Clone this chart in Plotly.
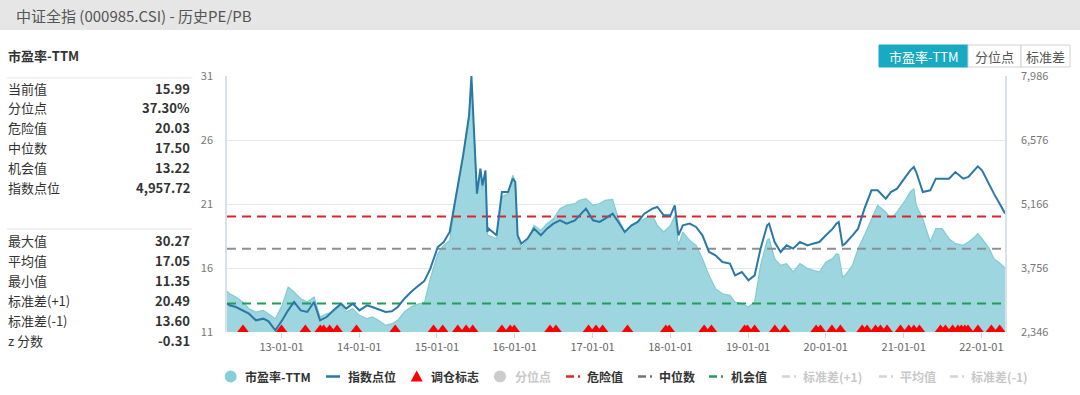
import plotly.graph_objects as go

# ---------------- data ----------------
dates = [
    "2012-04-20", "2012-05-02", "2012-06-01", "2012-07-02", "2012-08-01", "2012-09-03",
    "2012-10-08", "2012-11-01", "2012-12-03", "2013-01-04", "2013-02-01", "2013-03-01",
    "2013-04-01", "2013-05-02", "2013-06-03", "2013-07-01", "2013-08-01", "2013-09-02",
    "2013-10-08", "2013-11-01", "2013-12-02", "2014-01-02", "2014-02-07", "2014-03-03",
    "2014-04-01", "2014-05-05", "2014-06-03", "2014-07-01", "2014-08-01", "2014-09-01",
    "2014-10-08", "2014-11-03", "2014-12-01", "2015-01-05", "2015-02-02", "2015-03-02",
    "2015-04-01", "2015-05-04", "2015-06-01", "2015-06-12", "2015-07-08", "2015-07-24",
    "2015-08-03", "2015-08-17", "2015-08-26", "2015-09-01", "2015-10-08", "2015-11-02",
    "2015-12-01", "2015-12-23", "2016-01-04", "2016-01-15", "2016-02-01", "2016-03-01",
    "2016-04-01", "2016-05-03", "2016-06-01", "2016-07-01", "2016-08-01", "2016-09-01",
    "2016-10-10", "2016-11-01", "2016-12-01", "2017-01-03", "2017-02-03", "2017-03-01",
    "2017-04-05", "2017-05-02", "2017-06-01", "2017-07-03", "2017-08-01", "2017-09-01",
    "2017-10-09", "2017-11-01", "2017-12-01", "2018-01-02", "2018-01-22", "2018-02-08",
    "2018-03-01", "2018-04-02", "2018-05-02", "2018-06-01", "2018-07-02", "2018-08-01",
    "2018-09-03", "2018-10-08", "2018-11-01", "2018-12-03", "2019-01-03", "2019-02-01",
    "2019-03-01", "2019-04-01", "2019-04-10", "2019-05-06", "2019-06-03", "2019-07-01",
    "2019-08-01", "2019-09-02", "2019-10-08", "2019-11-01", "2019-12-02", "2020-01-02",
    "2020-02-03", "2020-02-20", "2020-03-02", "2020-03-20", "2020-04-01", "2020-05-06",
    "2020-06-01", "2020-07-01", "2020-08-03", "2020-09-01", "2020-10-09", "2020-11-02",
    "2020-12-01", "2021-01-04", "2021-02-01", "2021-02-18", "2021-03-01", "2021-04-01",
    "2021-05-06", "2021-06-01", "2021-07-01", "2021-08-02", "2021-09-01", "2021-10-08",
    "2021-11-01", "2021-12-01", "2021-12-15", "2022-01-04", "2022-02-07", "2022-03-01",
    "2022-04-01", "2022-04-22",
]

pe_ttm = [
    14.18, 13.99, 13.73, 13.34, 12.82, 12.56,
    12.69, 12.43, 12.04, 13.08, 14.52, 14.13,
    13.60, 13.34, 13.73, 12.17, 12.43, 12.56,
    13.08, 12.56, 12.82, 12.30, 12.04, 12.17,
    11.91, 11.52, 11.65, 11.91, 12.56, 12.95,
    13.21, 13.28, 15.17, 17.12, 17.77, 18.16,
    21.42, 24.54, 27.67, 30.27, 21.80, 23.50,
    22.20, 23.40, 18.60, 18.55, 18.29, 21.55,
    21.81, 23.24, 22.72, 18.16, 17.64, 18.16,
    19.33, 18.94, 19.46, 19.85, 20.64, 20.90,
    21.03, 21.29, 21.42, 20.90, 21.03, 21.29,
    21.36, 19.85, 18.81, 19.33, 19.59, 19.85,
    20.11, 19.33, 18.81, 19.33, 20.11, 17.77,
    18.81, 18.16, 17.77, 16.73, 15.43, 14.39,
    13.99, 13.86, 13.34, 13.21, 12.95, 13.34,
    16.21, 18.16, 18.29, 16.73, 16.21, 16.34,
    15.69, 16.34, 15.95, 15.82, 15.69, 16.47,
    16.73, 17.12, 17.04, 15.30, 15.43, 16.21,
    17.51, 18.55, 19.85, 20.90, 20.38, 19.85,
    20.38, 21.16, 21.94, 22.20, 20.90, 19.85,
    18.03, 19.07, 19.07, 18.29, 17.90, 17.77,
    18.03, 18.42, 18.68, 18.29, 17.51, 16.73,
    16.34, 15.99,
]

index_pts = [
    2970, 2934, 2897, 2823, 2750, 2603,
    2640, 2581, 2383, 2603, 2823, 3007,
    2823, 2787, 3007, 2603, 2676, 2823,
    2970, 2860, 2970, 2823, 2934, 2897,
    2845, 2787, 2801, 2897, 3080, 3227,
    3374, 3470, 3741, 4219, 4329, 4549,
    5357, 6238, 7120, 7986, 5394, 5945,
    5577, 5908, 4549, 4623, 4476, 5430,
    5430, 5724, 5651, 4476, 4292, 4402,
    4623, 4476, 4623, 4733, 4806, 4733,
    4806, 4916, 5063, 4806, 4770, 4843,
    4953, 4770, 4549, 4696, 4770, 4953,
    5063, 5100, 4916, 4916, 5137, 4476,
    4696, 4733, 4660, 4476, 4109, 4035,
    3888, 3852, 3594, 3668, 3484, 3594,
    4182, 4696, 4733, 4329, 4109, 4255,
    4182, 4329, 4255, 4292, 4329, 4476,
    4623, 4733, 4770, 4255, 4292, 4476,
    4623, 5063, 5467, 5467, 5284, 5430,
    5504, 5724, 5908, 5981, 5871, 5430,
    5467, 5724, 5724, 5724, 5871, 5724,
    5761, 5908, 5996, 5908, 5577, 5394,
    5137, 4957.72,
]

signal_dates = [
    "2012-07-04", "2013-01-01", "2013-04-23", "2013-07-02", "2013-07-18", "2013-08-15",
    "2013-09-19", "2013-12-19", "2014-06-19", "2014-12-16", "2015-01-28", "2015-04-09",
    "2015-05-18", "2015-06-18", "2015-11-02", "2015-12-11", "2015-12-30", "2016-06-15",
    "2016-07-13", "2016-12-13", "2017-01-17", "2017-02-17", "2017-06-14", "2017-12-11",
    "2017-12-27", "2018-06-09", "2018-07-13", "2018-12-16", "2018-12-29", "2019-02-01",
    "2019-05-07", "2019-06-22", "2019-11-17", "2019-12-07", "2020-01-30", "2020-03-10",
    "2020-06-20", "2020-07-13", "2020-08-22", "2020-09-14", "2020-10-15", "2020-12-17",
    "2021-01-25", "2021-02-18", "2021-03-16", "2021-06-23", "2021-07-16", "2021-08-19",
    "2021-09-13", "2021-09-29", "2021-10-15", "2021-10-30", "2021-12-16", "2022-02-17",
    "2022-03-28",
]
signal_level = 11.2

danger_val = 20.03
median_val = 17.50
chance_val = 13.22

pe_ticks = [11, 16, 21, 26, 31]
idx_ticks = [2346, 3756, 5166, 6576, 7986]

title_text = "中证全指 (000985.CSI) - 历史PE/PB"
panel_title = "市盈率-TTM"
stats_top_labels = ["当前值", "分位点", "危险值", "中位数", "机会值", "指数点位"]
stats_top_values = ["15.99", "37.30%", "20.03", "17.50", "13.22", "4,957.72"]
stats_bot_labels = ["最大值", "平均值", "最小值", "标准差(+1)", "标准差(-1)", "z 分数"]
stats_bot_values = ["30.27", "17.05", "11.35", "20.49", "13.60", "-0.31"]
buttons = ["市盈率-TTM", "分位点", "标准差"]
legend_names = ["市盈率-TTM", "指数点位", "调仓标志", "分位点", "危险值",
                "中位数", "机会值", "标准差(+1)", "平均值", "标准差(-1)"]

# ---------------- geometry helpers (layout only) ----------------
W, H = 1080, 395
L, R, T, B = 227, 1005, 76, 332
FONT = "Noto Sans CJK SC, Noto Sans, sans-serif"


def px(x):
    return (x - L) / (R - L)


def py(y):
    return (B - y) / (B - T)


PE_FILL = "#9dd6de"
PE_LINE = "#80cbd6"
IDX_COLOR = "#2a78a6"
RED = "#d9262b"
GRAY = "#8c9096"
GREEN = "#1f9e55"

fig = go.Figure()

fig.add_trace(go.Scatter(
    x=dates, y=pe_ttm, mode="lines", name="市盈率-TTM",
    line=dict(color=PE_LINE, width=1.2), fill="tozeroy", fillcolor=PE_FILL,
    hoverinfo="skip", yaxis="y"))

for val, col, nm in [(danger_val, RED, "危险值"), (median_val, GRAY, "中位数"),
                     (chance_val, GREEN, "机会值")]:
    fig.add_trace(go.Scatter(
        x=[dates[0], dates[-1]], y=[val, val], mode="lines", name=nm,
        line=dict(color=col, width=2, dash="9px,6px"), hoverinfo="skip", yaxis="y"))

fig.add_trace(go.Scatter(
    x=signal_dates, y=[signal_level] * len(signal_dates), mode="markers", name="调仓标志",
    marker=dict(symbol="triangle-up", size=10, color="#ff0000", line=dict(width=0)),
    cliponaxis=False, hoverinfo="skip", yaxis="y"))

fig.add_trace(go.Scatter(
    x=dates, y=index_pts, mode="lines", name="指数点位",
    line=dict(color=IDX_COLOR, width=2), hoverinfo="skip", yaxis="y2"))

shapes = []
annotations = []

# title bar
shapes.append(dict(type="rect", xref="paper", yref="paper", x0=px(0), x1=px(W),
                   y0=py(30), y1=py(0), fillcolor="#e6e6e6", line=dict(width=0), layer="below"))
annotations.append(dict(text=title_text, xref="paper", yref="paper", x=px(14), y=py(15),
                        xanchor="left", yanchor="middle", showarrow=False,
                        font=dict(size=15, color="#555555", family=FONT)))

# left panel
annotations.append(dict(text="<b>" + panel_title + "</b>", xref="paper", yref="paper",
                        x=px(6), y=py(55), xanchor="left", yanchor="middle", showarrow=False,
                        font=dict(size=13, color="#333333", family=FONT)))
for sep_y in (78, 229):
    shapes.append(dict(type="line", xref="paper", yref="paper", x0=px(7), x1=px(192),
                       y0=py(sep_y), y1=py(sep_y), line=dict(color="#eeeeee", width=1.5)))

row_top = [88, 107.7, 127.3, 147, 167, 187]
row_bot = [240.7, 260.3, 280.3, 300, 320, 340]
for labels, values, ys in [(stats_top_labels, stats_top_values, row_top),
                           (stats_bot_labels, stats_bot_values, row_bot)]:
    for lab, val, yy in zip(labels, values, ys):
        annotations.append(dict(text=lab, xref="paper", yref="paper", x=px(6), y=py(yy),
                                xanchor="left", yanchor="middle", showarrow=False,
                                font=dict(size=13, color="#333333", family=FONT)))
        annotations.append(dict(text="<b>" + val + "</b>", xref="paper", yref="paper",
                                x=px(192), y=py(yy), xanchor="right", yanchor="middle",
                                showarrow=False, font=dict(size=13, color="#333333", family=FONT)))

# buttons
btn_x = [(879, 968), (968, 1021), (1021, 1070)]
for i, (name, (x0, x1)) in enumerate(zip(buttons, btn_x)):
    active = i == 0
    shapes.append(dict(type="rect", xref="paper", yref="paper", x0=px(x0), x1=px(x1),
                       y0=py(67), y1=py(45),
                       fillcolor="#17aac2" if active else "#ffffff",
                       line=dict(color="#17aac2" if active else "#d0d0d0", width=1)))
    annotations.append(dict(text=name, xref="paper", yref="paper", x=px((x0 + x1) / 2),
                            y=py(56), xanchor="center", yanchor="middle", showarrow=False,
                            font=dict(size=13, color="#ffffff" if active else "#555555",
                                      family=FONT)))

# manual legend
LY = 376.5
sym_x = [230.7, 326, 416.7, 500, 566, 638, 709, 782, 879, 950]
txt_x = [243, 345.5, 429, 513, 585, 657, 729, 801, 898, 969]
active = [True, True, True, False, True, True, True, False, False, False]
for i, (nm, sx, tx, act) in enumerate(zip(legend_names, sym_x, txt_x, active)):
    if i == 0 or i == 3:
        col = "#86cfd9" if i == 0 else "#cccccc"
        shapes.append(dict(type="circle", xref="paper", yref="paper", x0=px(sx - 6),
                           x1=px(sx + 6), y0=py(LY + 6), y1=py(LY - 6),
                           fillcolor=col, line=dict(width=0)))
    elif i == 1:
        shapes.append(dict(type="line", xref="paper", yref="paper", x0=px(sx), x1=px(sx + 14),
                           y0=py(LY), y1=py(LY), line=dict(color=IDX_COLOR, width=2.5)))
    elif i == 2:
        path = (f"M {px(sx - 6)},{py(LY + 5)} L {px(sx + 6)},{py(LY + 5)} "
                f"L {px(sx)},{py(LY - 6)} Z")
        shapes.append(dict(type="path", xref="paper", yref="paper", path=path,
                           fillcolor="#ff0000", line=dict(width=0)))
    else:
        col = {4: RED, 5: "#6f7378", 6: GREEN}.get(i, "#d3d3d3")
        shapes.append(dict(type="line", xref="paper", yref="paper", x0=px(sx), x1=px(sx + 8),
                           y0=py(LY), y1=py(LY), line=dict(color=col, width=2.5)))
        shapes.append(dict(type="line", xref="paper", yref="paper", x0=px(sx + 12),
                           x1=px(sx + 14), y0=py(LY), y1=py(LY),
                           line=dict(color=col, width=2.5)))
    annotations.append(dict(text="<b>" + nm + "</b>", xref="paper", yref="paper", x=px(tx),
                            y=py(LY), xanchor="left", yanchor="middle", showarrow=False,
                            font=dict(size=12, color="#333333" if act else "#c8c8c8",
                                      family=FONT)))

fig.update_layout(
    width=W, height=H, autosize=False,
    margin=dict(l=L, r=W - R, t=T, b=H - B, pad=0),
    paper_bgcolor="#ffffff", plot_bgcolor="#ffffff",
    showlegend=False,
    font=dict(family=FONT, size=11, color="#666666"),
    shapes=shapes, annotations=annotations,
    xaxis=dict(type="date", range=[dates[0], dates[-1]], tickformat="%y-%m-%d",
               dtick="M12", tick0="2013-01-01", showgrid=False, zeroline=False,
               ticks="outside", ticklen=5, tickcolor="#d0d7e0", showline=False,
               tickfont=dict(size=11, color="#666666")),
    yaxis=dict(range=[11, 31], tickvals=pe_ticks, showgrid=True, gridcolor="#e6e6e6",
               gridwidth=1, zeroline=False, showline=True, linecolor="#d8e0ea", linewidth=1.5,
               ticks="", ticklabelstandoff=10, tickfont=dict(size=11, color="#777777")),
    yaxis2=dict(range=[2346, 7986], tickvals=idx_ticks, tickformat=",", overlaying="y",
                side="right", showgrid=False, zeroline=False, showline=True,
                linecolor="#d8e0ea", linewidth=1.5, ticks="", ticklabelstandoff=12,
                tickfont=dict(size=11, color="#777777")),
)

fig.write_html("out.html", config={"displayModeBar": False},
               post_script="document.body.style.margin='0';document.body.style.padding='0';")
